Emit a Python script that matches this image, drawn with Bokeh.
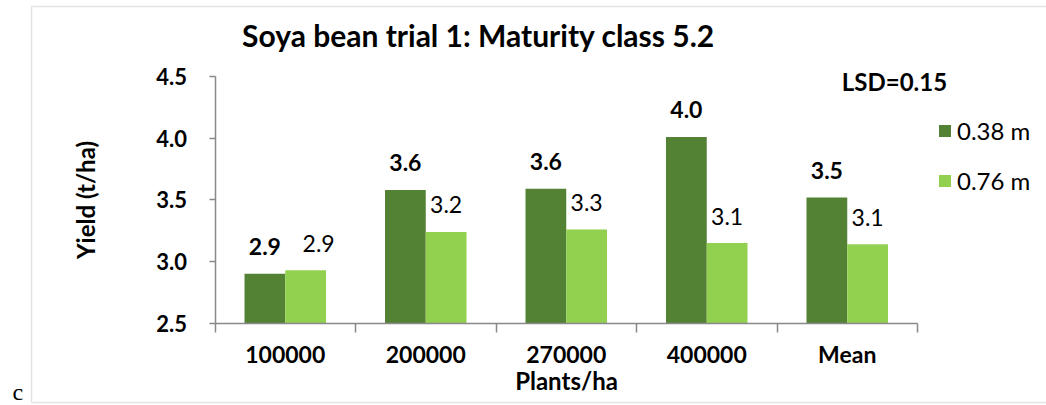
from bokeh.plotting import figure
from bokeh.models import (ColumnDataSource, Range1d, FixedTicker, Label, LabelSet,
                          Legend, LegendItem, BoxAnnotation, NumeralTickFormatter)
from bokeh.transform import dodge
from bokeh.core.properties import value
from bokeh.embed import file_html
from bokeh.resources import INLINE

# ---------------- data ----------------
categories = ["100000", "200000", "270000", "400000", "Mean"]
yield_038 = [2.90, 3.58, 3.59, 4.01, 3.52]
yield_076 = [2.93, 3.24, 3.26, 3.15, 3.14]
labels_038 = ["2.9", "3.6", "3.6", "4.0", "3.5"]
labels_076 = ["2.9", "3.2", "3.3", "3.1", "3.1"]
series_names = ["0.38 m", "0.76 m"]
y_ticks = [2.5, 3.0, 3.5, 4.0, 4.5]
title_text = "Soya bean trial 1: Maturity class 5.2"
lsd_text = "LSD=0.15"
x_title = "Plants/ha"
y_title = "Yield (t/ha)"

# ---------------- layout / style ----------------
W, H = 1046, 405
# pixel box of the plotting area (axes) inside the canvas
PX0, PX1 = 214.5, 917.0     # left / right of x axis
PY_TOP, PY_BOT = 76.0, 322.7  # y of top tick / x axis
label_nudge_076 = [13, 0, 0, 0, 0]   # pixel nudge of light labels (as in source)
FONT = "Lato"
DARK = "#548235"
LIGHT = "#92D050"
AXIS = "#898989"
BORDER = "#a6a6a6"

ncat = len(categories)
ux = (PX1 - PX0) / ncat
uy = (PY_BOT - PY_TOP) / (y_ticks[-1] - y_ticks[0])
x_start = -PX0 / ux
x_end = (W - PX0) / ux
y_end = y_ticks[-1] + PY_TOP / uy
y_start = y_ticks[0] - (H - PY_BOT) / uy

xc = [i + 0.5 for i in range(ncat)]
src = ColumnDataSource(dict(x=xc, cat=categories, a=yield_038, b=yield_076,
                            la=labels_038, lb=labels_076, nb=label_nudge_076))

p = figure(width=W, height=H,
           x_range=Range1d(x_start, x_end),
           y_range=Range1d(y_start, y_end),
           output_backend="svg", toolbar_location=None,
           min_border_left=0, min_border_right=0, min_border_top=0, min_border_bottom=0)
p.outline_line_color = None
p.grid.visible = False
p.background_fill_color = "white"
p.border_fill_color = "white"

bw = 0.29
off = 0.145
r1 = p.vbar(x=dodge("x", -off), top="a", bottom=y_ticks[0], width=bw, source=src,
            fill_color=DARK, line_color=None)
r2 = p.vbar(x=dodge("x", off), top="b", bottom=y_ticks[0], width=bw, source=src,
            fill_color=LIGHT, line_color=None)

p.add_layout(LabelSet(x=dodge("x", -off), y="a", text="la", source=src,
                      y_offset=27, text_align="center", text_baseline="middle",
                      text_font=value(FONT), text_font_style="bold",
                      text_font_size="23px", text_color="black"))
p.add_layout(LabelSet(x=dodge("x", off), y="b", text="lb", source=src,
                      x_offset="nb", y_offset=27, text_align="center", text_baseline="middle",
                      text_font=value(FONT), text_font_style="normal",
                      text_font_size="23px", text_color="black"))

# axes (fixed inside the canvas)
xa = p.xaxis[0]
xa.fixed_location = y_ticks[0]
xa.bounds = (0, ncat)
xa.ticker = FixedTicker(ticks=xc, minor_ticks=list(range(ncat + 1)))
xa.major_label_overrides = {x: c for x, c in zip(xc, categories)}
xa.major_tick_line_color = None
xa.major_tick_out = 0
xa.major_tick_in = 0
xa.minor_tick_out = 9
xa.minor_tick_in = 0
xa.minor_tick_line_color = AXIS
xa.minor_tick_line_width = 1.5
xa.axis_line_color = AXIS
xa.axis_line_width = 1.5
xa.major_label_standoff = 8
xa.major_label_text_font = FONT
xa.major_label_text_font_style = "bold"
xa.major_label_text_font_size = "23px"
xa.major_label_text_color = "black"
xa.axis_label = x_title
xa.axis_label_text_font = FONT
xa.axis_label_text_font_style = "bold"
xa.axis_label_text_font_size = "24px"
xa.axis_label_text_color = "black"
xa.axis_label_standoff = -6

ya = p.yaxis[0]
ya.fixed_location = 0
ya.bounds = (y_ticks[0], y_ticks[-1])
ya.ticker = FixedTicker(ticks=y_ticks, minor_ticks=[])
ya.formatter = NumeralTickFormatter(format="0.0")
ya.major_tick_out = 6
ya.major_tick_in = 0
ya.major_tick_line_color = AXIS
ya.major_tick_line_width = 1.5
ya.minor_tick_line_color = None
ya.axis_line_color = AXIS
ya.axis_line_width = 1.5
ya.major_label_standoff = 22
ya.major_label_text_font = FONT
ya.major_label_text_font_style = "bold"
ya.major_label_text_font_size = "22px"
ya.major_label_text_color = "black"
ya.axis_label = y_title
ya.axis_label_text_font = FONT
ya.axis_label_text_font_style = "bold"
ya.axis_label_text_font_size = "24px"
ya.axis_label_text_color = "black"
ya.axis_label_standoff = 54

# legend
legend = Legend(items=[LegendItem(label=series_names[0], renderers=[r1]),
                       LegendItem(label=series_names[1], renderers=[r2])],
                location=(937, 210), padding=0, margin=0, spacing=21,
                glyph_width=15, glyph_height=15, label_standoff=5,
                label_text_font=FONT, label_text_font_size="24px",
                label_text_color="black",
                border_line_color=None, background_fill_alpha=0)
p.add_layout(legend)

# free texts (screen units, measured from bottom-left of canvas)
p.add_layout(Label(x=478, y=H - 34, x_units="screen", y_units="screen", text=title_text,
                   text_font=FONT, text_font_style="bold", text_font_size="30px",
                   text_color="black", text_align="center", text_baseline="middle"))
p.add_layout(Label(x=894, y=H - 81, x_units="screen", y_units="screen", text=lsd_text,
                   text_font=FONT, text_font_style="bold", text_font_size="24px",
                   text_color="black", text_align="center", text_baseline="middle"))
p.add_layout(Label(x=12, y=1, x_units="screen", y_units="screen", text="c",
                   text_font="Liberation Serif", text_font_size="24px",
                   text_color="black", text_align="left", text_baseline="bottom"))

p.add_layout(BoxAnnotation(left=31, right=W + 10, top=H - 6, bottom=H - 402,
                           left_units="screen", right_units="screen",
                           top_units="screen", bottom_units="screen",
                           fill_alpha=0, line_color=BORDER, line_width=1.5))

open("out.html", "w").write(file_html(p, INLINE))
